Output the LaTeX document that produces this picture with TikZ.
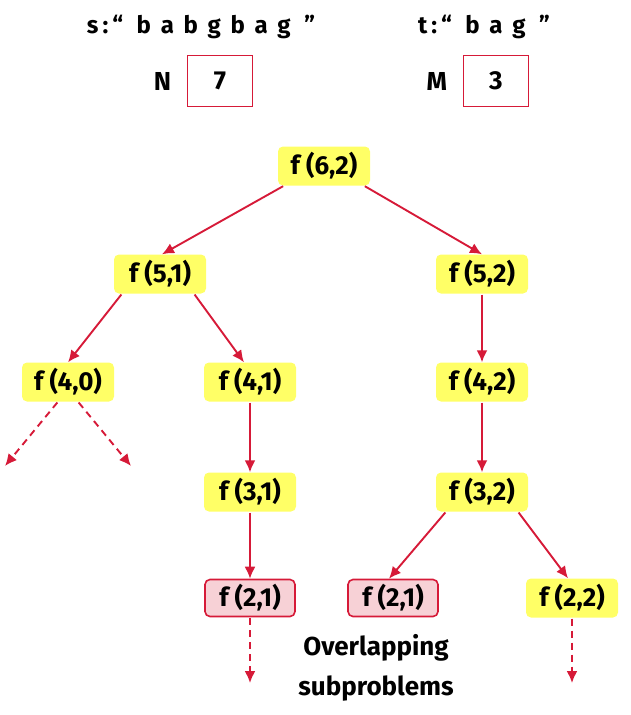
\documentclass[tikz,border=0pt]{standalone}
\usepackage{fontspec}
\setmainfont{Fira Sans}
\usetikzlibrary{positioning, arrows.meta}

\definecolor{crimson}{RGB}{214,26,56}
\definecolor{callyellow}{RGB}{255,255,102}
\definecolor{repeatpink}{RGB}{247,209,214}

\begin{document}
\begin{tikzpicture}[
    x=1pt, y=-1pt,
    font=\fontsize{26}{30}\selectfont\bfseries,
    call/.style={
        rectangle, rounded corners=5pt,
        fill=callyellow,
        minimum width=92pt, minimum height=39pt,
        inner sep=2pt
    },
    repeated/.style={call, fill=repeatpink, draw=crimson, line width=1.6pt,
        minimum width=90pt, minimum height=37pt},
    valbox/.style={
        rectangle, draw=crimson, line width=1.6pt,
        minimum width=65pt, minimum height=51pt
    },
    strtext/.style={font=\fontsize{24}{28}\selectfont\bfseries},
    edge/.style={-{Latex[length=12pt, width=11pt]}, line width=1.9pt, draw=crimson, shorten <=1pt},
    more/.style={edge, dash pattern=on 7pt off 5pt}
]
\useasboundingbox (0,0) rectangle (631,715);

% ============ Input strings ============
\node[strtext] (s) at (201,27) {s\,:\,“\,\, b\, a\, b\, g\, b\, a\, g\,\, ”};
\node[strtext] (t) at (484,27) {t\,:\,“\,\, b\, a\, g\,\, ”};
\node[valbox] (nval) at (220,81) {7};
\node[left=12pt of nval] (nlab) {N};
\node[valbox] (mval) at (496,81) {3};
\node[left=12pt of mval] (mlab) {M};

% ============ Recursion tree ============
\node[call] (f62) at (324,166) {f (6,2)};
\node[call] (f51) at (160,274) {f (5,1)};
\node[call] (f52) at (482,274) {f (5,2)};
\node[call] (f40) at (68,382) {f (4,0)};
\node[call] (f41) at (250,382) {f (4,1)};
\node[call] (f42) at (482,382) {f (4,2)};
\node[call] (f31) at (250,492) {f (3,1)};
\node[call] (f32) at (482,492) {f (3,2)};
\node[repeated] (f21a) at (250,598) {f (2,1)};
\node[repeated] (f21b) at (393,598) {f (2,1)};
\node[call] (f22) at (572,598) {f (2,2)};

\node[align=center, font=\fontsize{26}{40}\selectfont\bfseries] (note) at (376,668) {Overlapping\\subproblems};

% ============ Open ends ============
\coordinate (l40) at (5,466);
\coordinate (r40) at (131,466);
\coordinate (d21) at (250,683);
\coordinate (d22) at (572,683);

% ============ Calls ============
\draw[edge] ([xshift=-40pt]f62.south) -- ([xshift=2pt]f51.north);
\draw[edge] ([xshift=40pt]f62.south) -- (f52.north);
\draw[edge] ([xshift=-38pt]f51.south) -- (f40.north);
\draw[edge] ([xshift=34pt]f51.south) -- ([xshift=-6pt]f41.north);
\draw[edge] (f52) -- (f42);
\draw[edge] (f41) -- (f31);
\draw[edge] (f42) -- (f32);
\draw[edge] (f31) -- (f21a);
\draw[edge] ([xshift=-36pt]f32.south) -- ([xshift=-4pt]f21b.north);
\draw[edge] ([xshift=36pt]f32.south) -- ([xshift=-4pt]f22.north);

\draw[more] ([xshift=-10pt]f40.south) -- (l40);
\draw[more] ([xshift=10pt]f40.south) -- (r40);
\draw[more] (f21a) -- (d21);
\draw[more] (f22) -- (d22);

\end{tikzpicture}
\end{document}
